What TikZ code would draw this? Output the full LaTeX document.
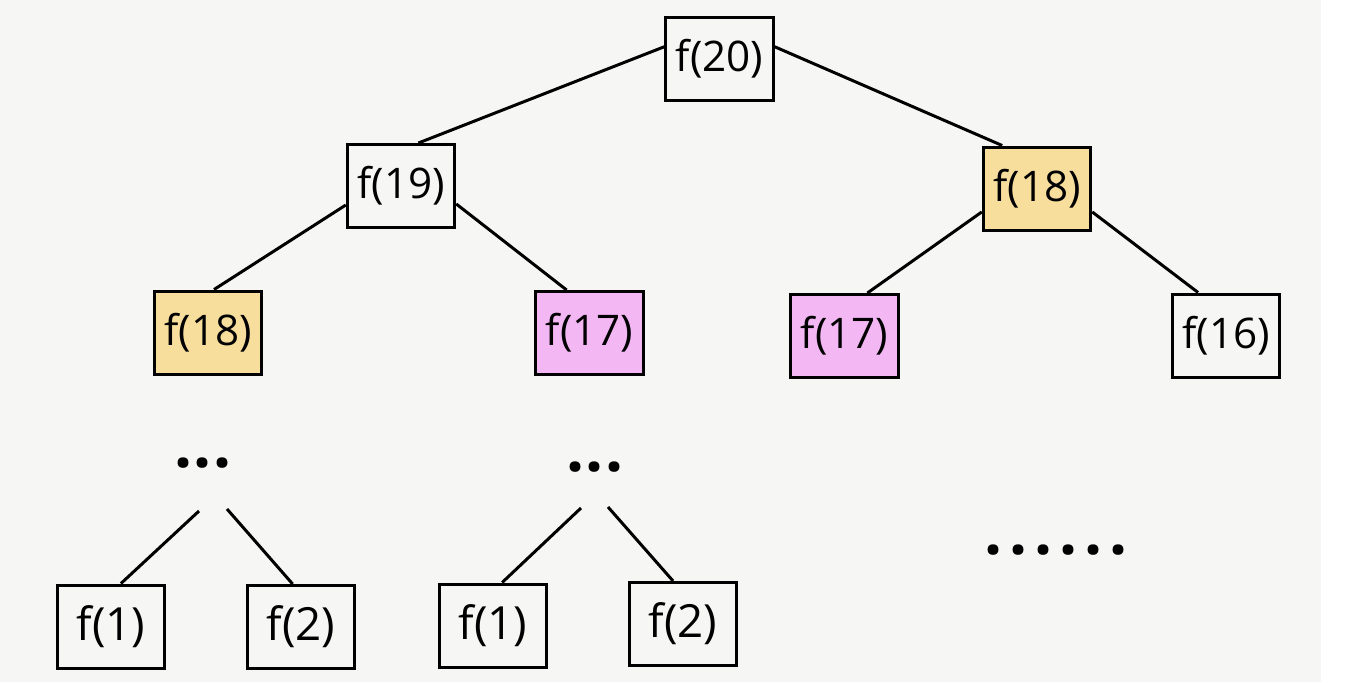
\documentclass[tikz,border=0pt]{standalone}
\usepackage{fontspec}
\setmainfont{Open Sans}
\usepackage{tikz}
\usetikzlibrary{calc}
\definecolor{paper}{RGB}{246,246,244}
\definecolor{dupyellow}{RGB}{248,222,157}
\definecolor{duppink}{RGB}{243,183,243}
\tikzstyle{call}=[draw, line width=1.7pt, minimum width=2.15cm, minimum height=1.66cm, inner sep=0pt, font=\fontsize{24}{28}\selectfont]
\tikzstyle{dup18}=[call, fill=dupyellow]
\tikzstyle{dup17}=[call, fill=duppink]
\tikzstyle{leaf}=[call, font=\fontsize{26}{30}\selectfont]
\tikzstyle{more}=[inner sep=0pt, font=\bfseries\fontsize{36}{36}\selectfont]
\tikzstyle{link}=[line width=1.7pt]

\begin{document}
\begin{tikzpicture}
      \fill[paper] (0,0) rectangle (26.42,-13.64);
      \fill[white] (26.42,0) rectangle (26.96,-13.64);
      \useasboundingbox (0,0) rectangle (26.96,-13.64);
      % recursion tree
      \node [call] (f20) at (14.39,-1.17) {f(20)};
      \node [call] (f19) at (8.02,-3.72) {f(19)};
      \node [dup18] (f18r) at (20.74,-3.77) {f(18)};
      \node [dup18] (f18l) at (4.16,-6.65) {f(18)};
      \node [dup17] (f17m) at (11.79,-6.66) {f(17)};
      \node [dup17] (f17r) at (16.89,-6.72) {f(17)};
      \node [call] (f16) at (24.52,-6.71) {f(16)};
      \node [more] (dotsl) at (4.06,-9.26) {.\kern1pt.\kern1pt.};
      \node [more] (dotsm) at (11.90,-9.34) {.\kern1pt.\kern1pt.};
      \node [more] (dotsr) at (21.12,-11.00) {.\kern4pt.\kern4pt.\kern4pt.\kern4pt.\kern4pt.};
      \node [leaf] (f1l) at (2.22,-12.53) {f(1)};
      \node [leaf] (f2l) at (6.02,-12.54) {f(2)};
      \node [leaf] (f1m) at (9.86,-12.51) {f(1)};
      \node [leaf] (f2m) at (13.66,-12.48) {f(2)};
      \draw[link] (f20.168) -- (f19.68);
      \draw[link] (f20.12) -- (f18r.129);
      \draw[link] (f19.199) -- (f18l.82);
      \draw[link] (f19.342) -- (f17m.118);
      \draw[link] (f18r.203) -- (f17r.62);
      \draw[link] (f18r.337) -- (f16.123);
      \draw[link] ($(dotsl)+(-0.08,-0.96)$) -- (f1l.77);
      \draw[link] ($(dotsl)+(0.48,-0.92)$) -- (f2l.101);
      \draw[link] ($(dotsm)+(-0.28,-0.82)$) -- (f1m.78);
      \draw[link] ($(dotsm)+(0.26,-0.80)$) -- (f2m.103);
\end{tikzpicture}
\end{document}
